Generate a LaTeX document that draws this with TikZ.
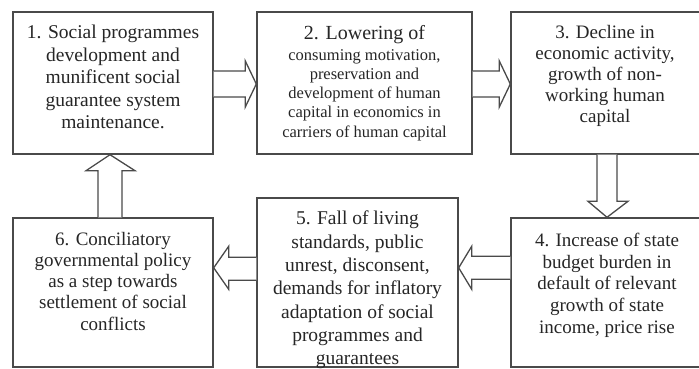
\documentclass[tikz,border=0pt]{standalone}
\usepackage{fontspec}
\setmainfont{Liberation Serif}
\usetikzlibrary{calc}
\definecolor{edge}{HTML}{4A4A4A}
\definecolor{ink}{HTML}{262626}
\begin{document}
\begin{tikzpicture}[x=1pt,y=-1pt,
  box/.style={draw=edge,line width=1.4pt,fill=white,rectangle,inner sep=0pt},
  txt/.style={anchor=north,inner sep=0pt,align=center,text=ink,font=\fontsize{19}{21.5}\selectfont},
  barrow/.style={draw=edge,line width=1.3pt,fill=white,line join=miter}]
\useasboundingbox (0,0) rectangle (699,369);
\clip (0,0) rectangle (699,369);
\fill[white] (0,0) rectangle (699,369);
% boxes
\node[box,minimum width=200pt,minimum height=142pt] (b1) at (113,83) {};
\node[box,minimum width=215pt,minimum height=142pt] (b2) at (364.5,83) {};
\node[box,minimum width=194pt,minimum height=142pt] (b3) at (608,83) {};
\node[box,minimum width=194pt,minimum height=149pt] (b4) at (608,292.5) {};
\node[box,minimum width=201pt,minimum height=169pt] (b5) at (357.5,282.5) {};
\node[box,minimum width=200pt,minimum height=149pt] (b6) at (113,292.5) {};
% texts
\node[txt,font=\fontsize{19.5}{22.5}\selectfont] (t1) at (113,25) {1. Social programmes\\development and\\munificent social\\guarantee system\\maintenance.};
\node[txt,font=\fontsize{16.5}{19.3}\selectfont] (t2) at (364.5,25) {{\fontsize{20}{19.3}\selectfont 2. Lowering of}\\[1.5pt]consuming motivation,\\preservation and\\development of human\\capital in economics in\\carriers of human capital};
\node[txt,font=\fontsize{19}{21}\selectfont] (t3) at (605,25) {3. Decline in\\economic activity,\\growth of non-\\working human\\capital};
\node[txt,font=\fontsize{19}{21.7}\selectfont] (t4) at (607,233) {4. Increase of state\\budget burden in\\default of relevant\\growth of state\\income, price rise};
\node[txt,font=\fontsize{19.5}{23.3}\selectfont] (t5) at (357.5,211) {5. Fall of living\\standards, public\\unrest, disconsent,\\demands for inflatory\\adaptation of social\\programmes and\\guarantees};
\node[txt,font=\fontsize{19}{21.2}\selectfont] (t6) at (113,232) {6. Conciliatory\\governmental policy\\as a step towards\\settlement of social\\conflicts};
% block arrows
% 1 -> 2
\draw[barrow] ($(b1.east)+(0,-12)$) -- ($(b2.west)+(-11,-12)$) -- ($(b2.west)+(-11,-22)$) -- ($(b2.west)+(0,1)$) -- ($(b2.west)+(-11,24)$) -- ($(b2.west)+(-11,14)$) -- ($(b1.east)+(0,14)$);
% 2 -> 3
\draw[barrow] ($(b2.east)+(0,-12)$) -- ($(b3.west)+(-11,-12)$) -- ($(b3.west)+(-11,-22)$) -- ($(b3.west)+(0,1)$) -- ($(b3.west)+(-11,24)$) -- ($(b3.west)+(-11,14)$) -- ($(b2.east)+(0,14)$);
% 3 -> 4
\draw[barrow] ($(b3.south)+(-11,0)$) -- ($(b4.north)+(-11,-16)$) -- ($(b4.north)+(-20,-16)$) -- ($(b4.north)+(-1,0)$) -- ($(b4.north)+(20,-16)$) -- ($(b4.north)+(9,-16)$) -- ($(b3.south)+(9,0)$);
% 4 -> 5
\draw[barrow] ($(b4.north west)+(0,39)$) -- ($(b5.north east)+(13,59)$) -- ($(b5.north east)+(13,49)$) -- ($(b5.north east)+(0,70.5)$) -- ($(b5.north east)+(13,92)$) -- ($(b5.north east)+(13,82)$) -- ($(b4.north west)+(0,62)$);
% 5 -> 6
\draw[barrow] ($(b5.north west)+(0,60)$) -- ($(b6.north east)+(15,40)$) -- ($(b6.north east)+(15,29)$) -- ($(b6.north east)+(0,50.5)$) -- ($(b6.north east)+(15,72)$) -- ($(b6.north east)+(15,63)$) -- ($(b5.north west)+(0,83)$);
% 6 -> 1
\draw[barrow] ($(b6.north)+(-15,0)$) -- ($(b1.south)+(-15,16)$) -- ($(b1.south)+(-27,16)$) -- ($(b1.south)+(-3,0)$) -- ($(b1.south)+(22,16)$) -- ($(b1.south)+(9,16)$) -- ($(b6.north)+(9,0)$);
\end{tikzpicture}
\end{document}
